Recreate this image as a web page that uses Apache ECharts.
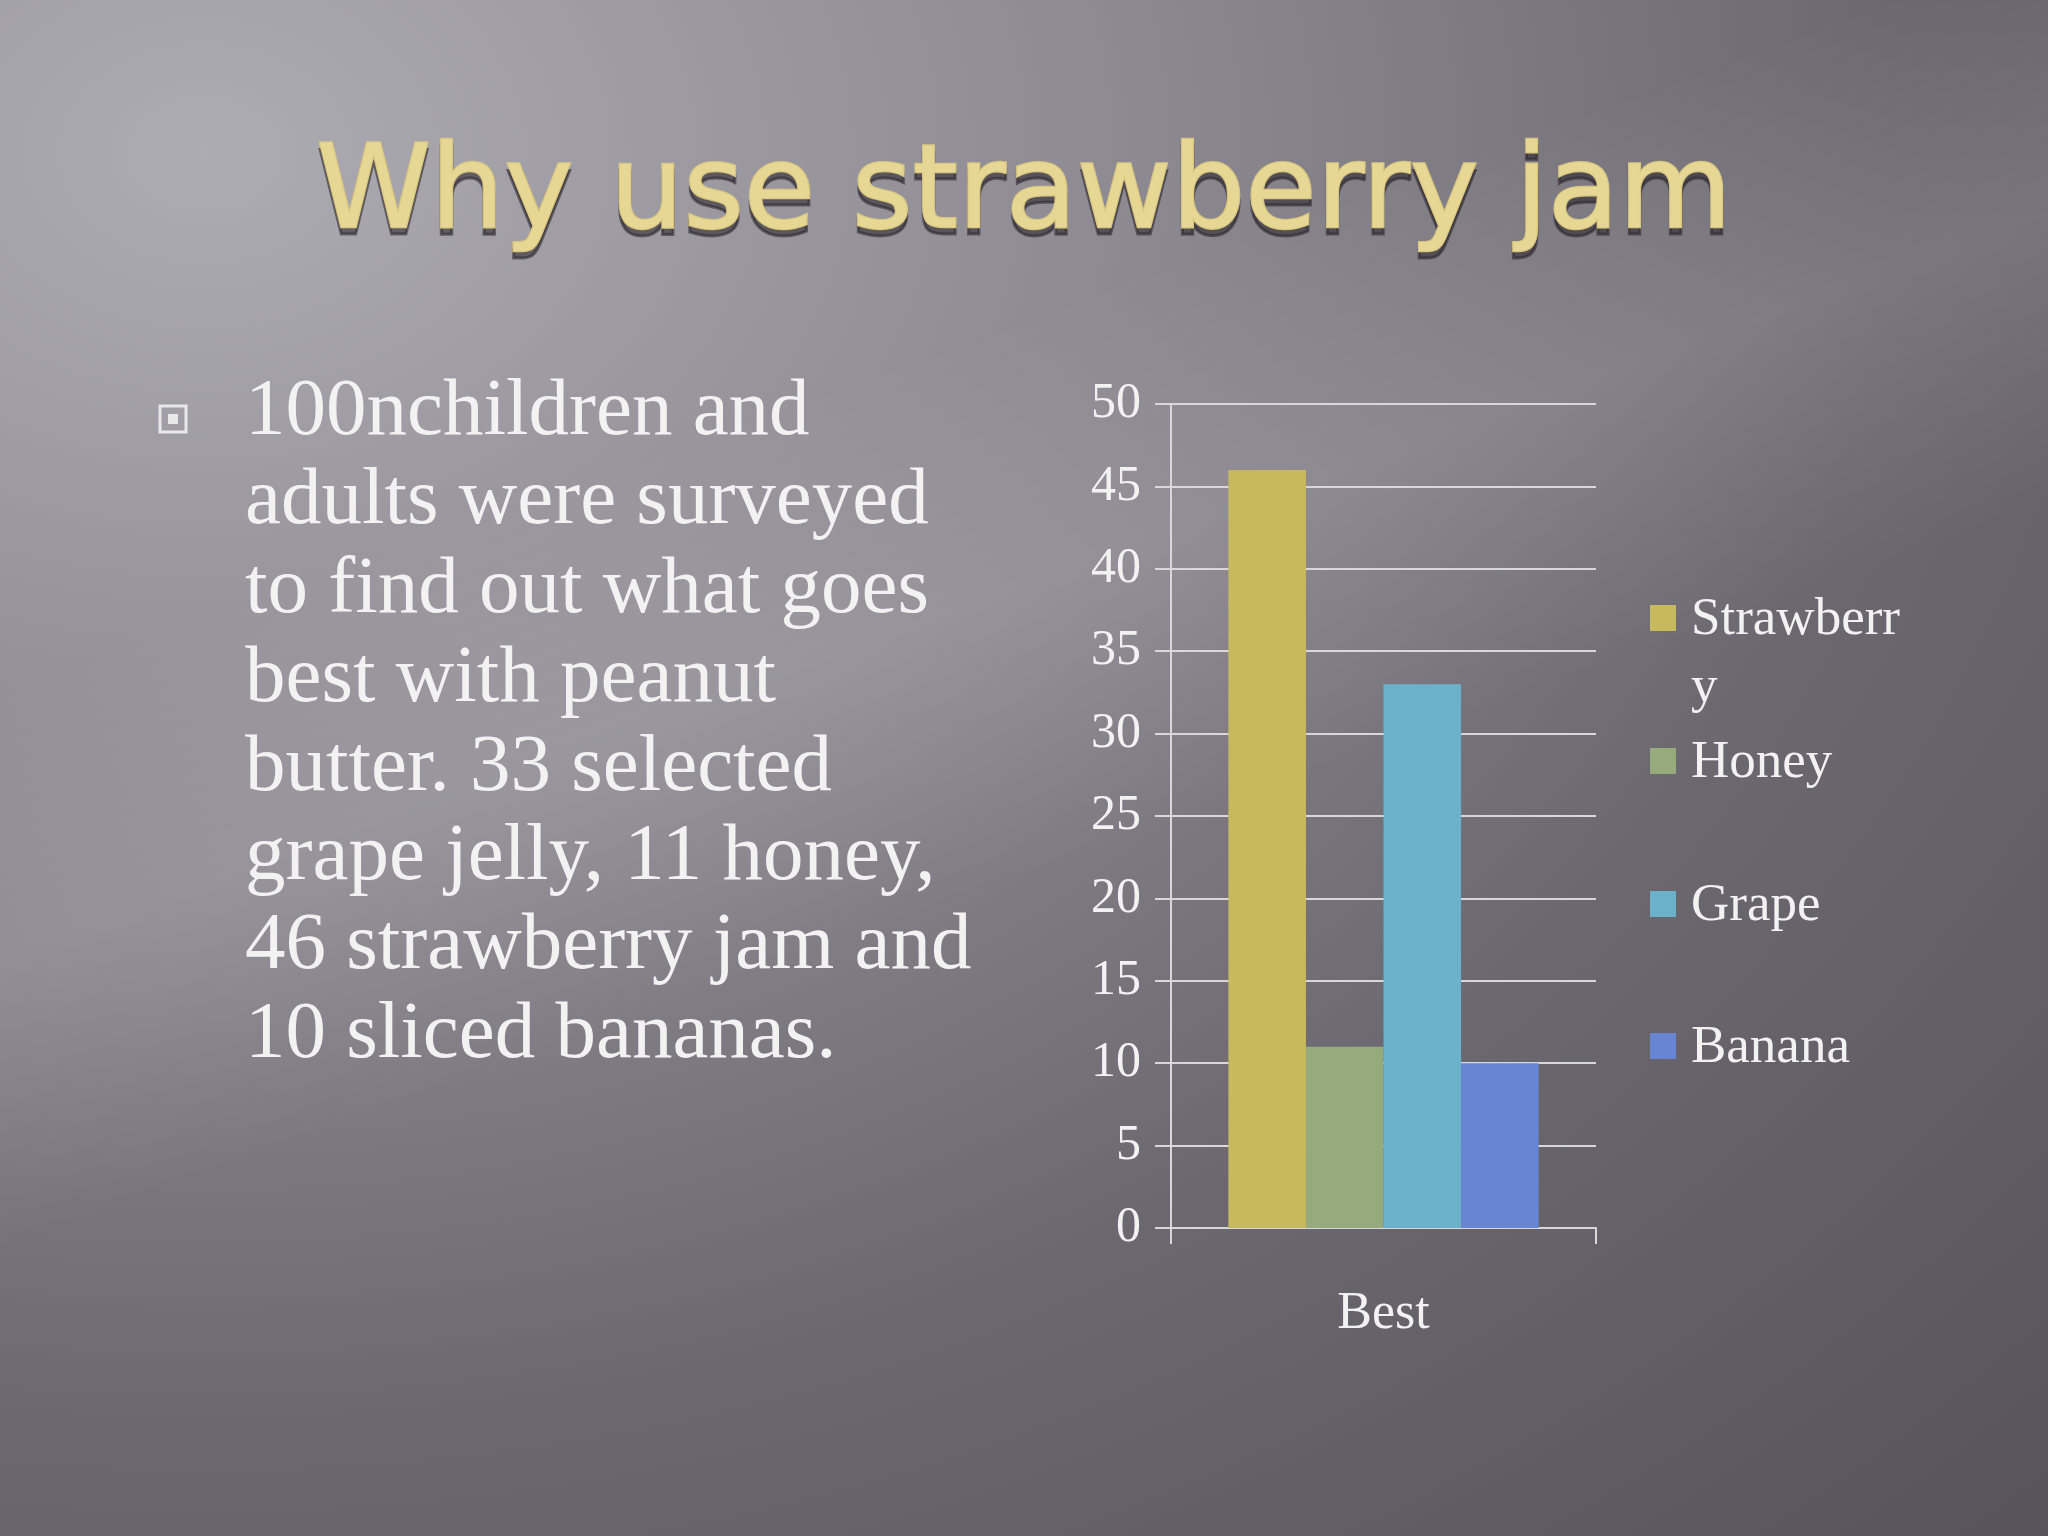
<!DOCTYPE html>
<html><head><meta charset="utf-8">
<script src="https://cdn.jsdelivr.net/npm/echarts@6/dist/echarts.min.js"></script>
<style>
html,body{margin:0;padding:0;width:2048px;height:1536px;overflow:hidden;
background:
 linear-gradient(160deg, rgba(255,255,255,0) 30%, rgba(255,255,255,0.10) 42%, rgba(255,255,255,0) 55%),
 radial-gradient(ellipse at 10% 10%, #aeacb3 0%, #8d8a92 35%, #6c6870 65%, #58535b 100%);}
#c{width:2048px;height:1536px;}
</style></head><body><div id="c"></div>
<script>
const titleText = 'Why use strawberry jam';
const bodyLines = ['100nchildren and','adults were surveyed','to find out what goes','best with peanut','butter. 33 selected','grape jelly, 11 honey,','46 strawberry jam and','10 sliced bananas.'];
const categories = ['Best'];
const seriesNames = ['Strawberry','Honey','Grape','Banana'];
const legendLabels = ['Strawberr\ny','Honey','Grape','Banana'];
const seriesValues = [46, 11, 33, 10];
const colors = ['#c9b95e','#97aa7c','#6ab1c9','#6785d3'];
const legendY = [618, 761, 904, 1046];

const chart = echarts.init(document.getElementById('c'));
const graphic = [
 {type:'text', left:'center', top:144, z:1, style:{text:titleText, font:'normal 116px "DejaVu Sans", sans-serif', fill:'rgba(40,35,40,0.55)', stroke:'rgba(40,35,40,0.55)', lineWidth:3}, x:6, y:6},
 {type:'text', left:'center', top:138, z:2, style:{text:titleText, font:'normal 116px "DejaVu Sans", sans-serif', fill:'#e6d894', stroke:'#d8c680', lineWidth:2.5}},
 {type:'rect', shape:{x:160,y:406,width:26,height:26}, style:{fill:'none', stroke:'#e8e8e8', lineWidth:3}},
 {type:'rect', shape:{x:168,y:414,width:10,height:10}, style:{fill:'#e8e8e8'}},
];
bodyLines.forEach((t,i)=>graphic.push({type:'text', left:245, top:372+i*89, style:{text:t, font:'81px "Liberation Serif", serif', fill:'#f2f2f2'}}));
seriesNames.forEach((n,i)=>{
 graphic.push({type:'rect', shape:{x:1650,y:legendY[i]-13,width:26,height:26}, style:{fill:colors[i]}});
 graphic.push({type:'text', left:1691, top:legendY[i]-32, style:{text:legendLabels[i], font:'53px "Liberation Serif", serif', fill:'#f2f2f2', lineHeight:68}});
});
chart.setOption({
 backgroundColor:'transparent',
 graphic,
 grid:{left:1171, right:2048-1596, top:404, bottom:1536-1228},
 xAxis:{type:'category', data:categories,
  axisLine:{lineStyle:{color:'#d8d8d8', width:2}},
  axisTick:{show:true, length:16, lineStyle:{color:'#d8d8d8', width:2}},
  axisLabel:{color:'#f2f2f2', fontSize:52, fontFamily:'Liberation Serif', margin:60}},
 yAxis:{type:'value', min:0, max:50, interval:5,
  axisLine:{show:true, lineStyle:{color:'#d8d8d8', width:2}},
  axisTick:{show:true, length:16, lineStyle:{color:'#d8d8d8', width:2}},
  splitLine:{lineStyle:{color:'#d8d8d8', width:2}},
  axisLabel:{color:'#f2f2f2', fontSize:50, fontFamily:'Liberation Serif', margin:30}},
 series: seriesNames.map((n,i)=>({name:n, type:'bar', data:[seriesValues[i]], barGap:'0%', barCategoryGap:'27%', itemStyle:{color:colors[i]}}))
});
</script></body></html>
